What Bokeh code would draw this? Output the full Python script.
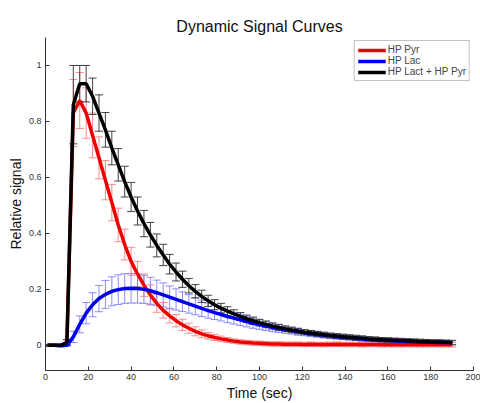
from bokeh.plotting import figure
from bokeh.models import ColumnDataSource, Whisker, FixedTicker, TeeHead
from bokeh.embed import file_html
from bokeh.resources import INLINE

# ---- data ----
time_sec = list(range(1, 191, 3))

hp_pyr = [0.0, 0.0, 0.0, 0.01, 0.83, 0.875, 0.83, 0.75, 0.67, 0.59,
          0.51, 0.43, 0.36, 0.30, 0.255, 0.215, 0.18, 0.15, 0.125, 0.105,
          0.088, 0.073, 0.061, 0.050, 0.041, 0.034, 0.028, 0.023, 0.019, 0.015,
          0.012, 0.010, 0.008, 0.007, 0.006, 0.005, 0.005, 0.004,
          0.004, 0.004, 0.003, 0.004, 0.003, 0.003, 0.003, 0.004, 0.003, 0.003,
          0.003, 0.002, 0.003, 0.003, 0.002, 0.003, 0.002, 0.002, 0.003, 0.002,
          0.002, 0.002, 0.003, 0.002, 0.002, 0.002]
hp_pyr_err = [0.003, 0.003, 0.003, 0.01, 0.12, 0.10, 0.09, 0.08, 0.075, 0.07,
              0.065, 0.06, 0.055, 0.05, 0.045, 0.04, 0.036, 0.032, 0.028, 0.025,
              0.022, 0.02, 0.018, 0.016, 0.014, 0.012, 0.011, 0.01,
              0.009, 0.008, 0.008, 0.008, 0.008, 0.008, 0.008, 0.008, 0.008, 0.008,
              0.008, 0.008, 0.008, 0.008, 0.008, 0.008, 0.008, 0.008, 0.008, 0.008,
              0.008, 0.008, 0.008, 0.008, 0.008, 0.008, 0.008, 0.008, 0.008, 0.008,
              0.008, 0.008, 0.008, 0.008, 0.008, 0.008]

hp_lac = [0.0, 0.0, -0.002, 0.0, 0.03, 0.075, 0.115, 0.145, 0.167, 0.182,
          0.193, 0.199, 0.203, 0.204, 0.203, 0.2, 0.195, 0.188, 0.18, 0.172,
          0.164, 0.156, 0.148, 0.14, 0.132, 0.124, 0.117, 0.110, 0.103, 0.097,
          0.091, 0.085, 0.079, 0.074, 0.069, 0.064, 0.060, 0.056, 0.052, 0.048,
          0.045, 0.042, 0.039, 0.036, 0.034, 0.031, 0.029, 0.027, 0.025, 0.023,
          0.022, 0.020, 0.019, 0.018, 0.016, 0.015, 0.014, 0.013, 0.012, 0.012,
          0.011, 0.010, 0.010, 0.009]
hp_lac_err = [0.003, 0.003, 0.003, 0.003, 0.02, 0.03, 0.038, 0.043, 0.047, 0.05,
              0.052, 0.053, 0.053, 0.053, 0.052, 0.05, 0.048,
              0.045, 0.043, 0.04, 0.038, 0.035, 0.033, 0.031, 0.029, 0.027, 0.025,
              0.023, 0.022, 0.021, 0.02, 0.019, 0.018, 0.017, 0.016, 0.015, 0.014,
              0.013, 0.012, 0.012, 0.011, 0.011, 0.010, 0.010, 0.009, 0.009, 0.009,
              0.008, 0.008, 0.008, 0.008, 0.007, 0.007, 0.007, 0.007, 0.007, 0.007,
              0.007, 0.007, 0.007, 0.007, 0.007, 0.007, 0.007]

hp_total = [0.0, 0.0, 0.0, 0.01, 0.86, 0.935, 0.935, 0.89, 0.83, 0.77,
            0.705, 0.645, 0.585, 0.53, 0.48, 0.435, 0.395, 0.357, 0.323, 0.29,
            0.262, 0.236, 0.213, 0.193, 0.175, 0.159, 0.145, 0.133, 0.122, 0.112,
            0.103, 0.095, 0.088, 0.081, 0.075, 0.069, 0.064, 0.059, 0.055, 0.051,
            0.047, 0.044, 0.041, 0.038, 0.035, 0.033, 0.031, 0.029, 0.027, 0.025,
            0.023, 0.022, 0.020, 0.019, 0.018, 0.017, 0.016, 0.015, 0.014, 0.013,
            0.012, 0.012, 0.011, 0.010]
hp_total_err = [0.003, 0.003, 0.003, 0.01, 0.14, 0.065, 0.065, 0.065, 0.065, 0.062,
                0.06, 0.058, 0.055, 0.052, 0.05, 0.047, 0.044, 0.041, 0.038, 0.035,
                0.032, 0.029, 0.026, 0.024, 0.022, 0.02, 0.018, 0.017, 0.016, 0.015,
                0.014, 0.013, 0.013, 0.012, 0.012, 0.011, 0.011, 0.010, 0.010, 0.010,
                0.009, 0.009, 0.009, 0.009, 0.009, 0.009, 0.009, 0.009, 0.009, 0.009,
                0.008, 0.008, 0.008, 0.008, 0.008, 0.008, 0.008, 0.008, 0.008, 0.008,
                0.008, 0.008, 0.008, 0.008]

series_names = ["HP Pyr", "HP Lac", "HP Lact + HP Pyr"]
x_ticks = [0, 20, 40, 60, 80, 100, 120, 140, 160, 180, 200]
x_tick_labels = ["0", "20", "40", "60", "80", "100", "120", "140", "160", "180", "200"]
y_ticks = [0, 0.2, 0.4, 0.6, 0.8, 1]
y_tick_labels = ["0", "0.2", "0.4", "0.6", "0.8", "1"]

FONT = "Liberation Sans"

src = ColumnDataSource(dict(
    t=time_sec,
    pyr=hp_pyr, pyr_lo=[v - e for v, e in zip(hp_pyr, hp_pyr_err)], pyr_hi=[v + e for v, e in zip(hp_pyr, hp_pyr_err)],
    lac=hp_lac, lac_lo=[v - e for v, e in zip(hp_lac, hp_lac_err)], lac_hi=[v + e for v, e in zip(hp_lac, hp_lac_err)],
    tot=hp_total, tot_lo=[v - e for v, e in zip(hp_total, hp_total_err)], tot_hi=[v + e for v, e in zip(hp_total, hp_total_err)],
))

Y0, Y1 = -0.09, 1.10
p = figure(width=480, height=403, x_range=(0, 200), y_range=(Y0, Y1),
           output_backend="svg", toolbar_location=None,
           min_border_left=45, min_border_right=7, min_border_top=37, min_border_bottom=31)

p.title.text = "Dynamic Signal Curves"
p.title.align = "center"
p.title.text_font = FONT
p.title.text_font_size = "16px"
p.title.text_font_style = "normal"
p.title.text_color = "#111111"
p.title.standoff = 5

p.outline_line_color = None
p.xgrid.visible = False
p.ygrid.visible = False

for ax in (p.xaxis[0], p.yaxis[0]):
    ax.major_tick_in = 4
    ax.major_tick_out = 0
    ax.minor_tick_line_color = None
    ax.axis_line_color = "#333333"
    ax.major_tick_line_color = "#333333"
    ax.major_label_text_font = FONT
    ax.major_label_text_font_size = "9px"
    ax.major_label_text_color = "#333333"
    ax.axis_label_text_font = FONT
    ax.axis_label_text_font_size = "14px"
    ax.axis_label_text_font_style = "normal"
    ax.axis_label_text_color = "#111111"

p.xaxis.ticker = FixedTicker(ticks=x_ticks)
p.yaxis.ticker = FixedTicker(ticks=y_ticks)
p.xaxis.major_label_overrides = dict(zip(x_ticks, x_tick_labels))
p.yaxis.major_label_overrides = dict(zip(y_ticks, y_tick_labels))
p.xaxis.axis_label = "Time (sec)"
p.yaxis.axis_label = "Relative signal"
p.xaxis.major_label_standoff = 3
p.xaxis.axis_label_standoff = 2
p.yaxis.major_label_standoff = 4
p.yaxis.axis_label_standoff = 2

err_specs = [("pyr_lo", "pyr_hi", "#ff7070", 0.8),
             ("lac_lo", "lac_hi", "#7070ff", 0.8),
             ("tot_lo", "tot_hi", "#303030", 0.9)]
for lo, hi, col, a in err_specs:
    w = Whisker(base="t", lower=lo, upper=hi, source=src, level="underlay",
                line_color=col, line_alpha=a, line_width=1,
                upper_head=TeeHead(size=8, line_color=col, line_alpha=a, line_width=1),
                lower_head=TeeHead(size=8, line_color=col, line_alpha=a, line_width=1))
    p.add_layout(w)

p.line("t", "pyr", source=src, color="#ee0000", line_width=3.5, legend_label=series_names[0])
p.line("t", "lac", source=src, color="#0000ee", line_width=3.5, legend_label=series_names[1])
p.line("t", "tot", source=src, color="#000000", line_width=3.5, legend_label=series_names[2])

lg = p.legend[0]
lg.location = "top_right"
lg.margin = 3
lg.padding = 3
lg.spacing = 0
lg.label_text_font = FONT
lg.label_text_font_size = "10px"
lg.label_height = 10
lg.glyph_height = 10
lg.glyph_width = 28
lg.label_standoff = 2
lg.border_line_color = "#888888"
lg.border_line_width = 1
lg.background_fill_alpha = 1.0

open("out.html", "w").write(file_html(p, INLINE))
